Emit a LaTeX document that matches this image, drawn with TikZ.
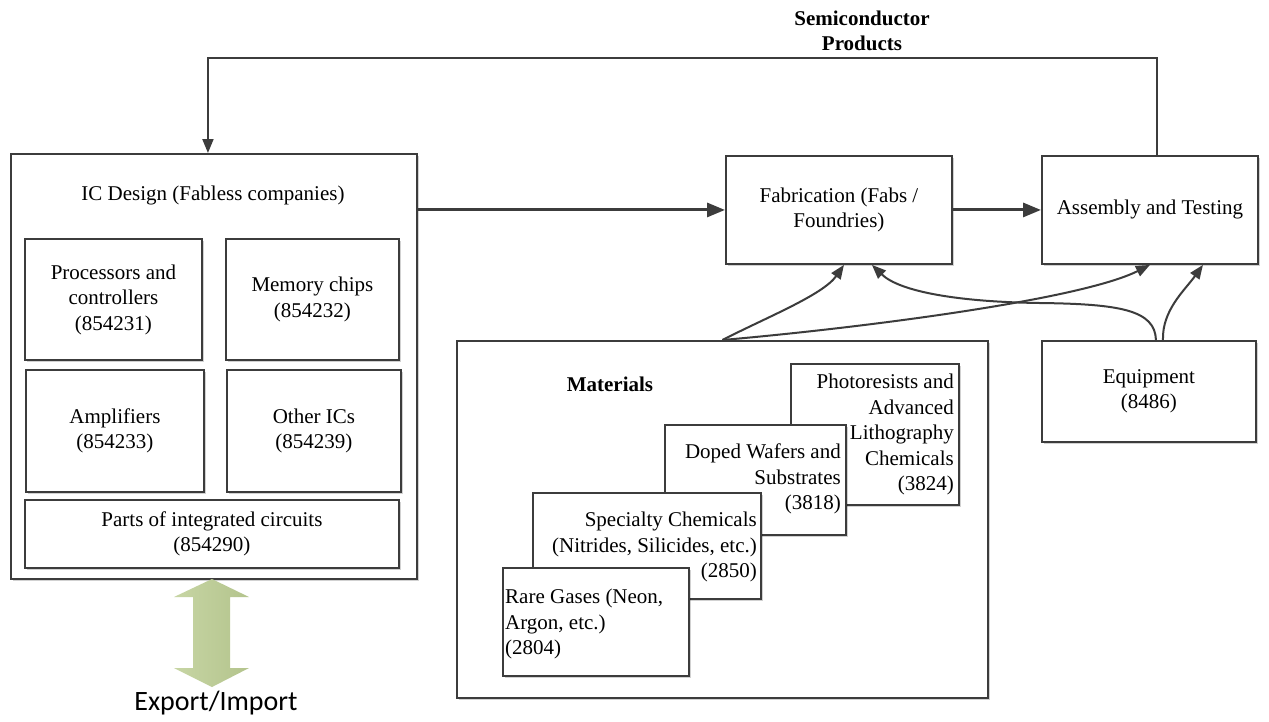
\documentclass[tikz,border=0pt]{standalone}
\usepackage{fontspec}
\setmainfont{Liberation Serif}
\newfontfamily\calib{Carlito}
\usetikzlibrary{arrows.meta,shadows}
\definecolor{linec}{HTML}{3C3C3C}
\definecolor{arrg}{HTML}{BDCE94}
\begin{document}
\begin{tikzpicture}[x=1pt,y=-1pt,
  box/.style={draw=linec, line width=1.9pt, fill=white, inner sep=0pt, anchor=north west, align=center,
    font=\fontsize{21}{25.5}\selectfont,
    drop shadow={shadow xshift=2pt,shadow yshift=-2pt,opacity=0.18,fill=black}},
  txt/.style={inner sep=0pt, font=\fontsize{21}{25.5}\selectfont},
  conn/.style={draw=linec, line width=2pt, -{Triangle[length=14pt,width=11pt]}},
  thick conn/.style={draw=linec, line width=3pt, -{Triangle[length=18pt,width=14pt]}},
]
\useasboundingbox (0,0) rectangle (1269,721);
\fill[white] (0,0) rectangle (1269,721);

% IC Design block
\node[box, minimum width=406pt, minimum height=425pt] (ic) at (10,153) {};
\node[txt] (ictitle) at (213,195) {IC Design (Fabless companies)};
\node[box, minimum width=177pt, minimum height=121pt] (proc) at (24,238) {Processors and\\controllers\\(854231)};
\node[box, minimum width=173pt, minimum height=121pt] (mem) at (225,238) {Memory chips\\(854232)};
\node[box, minimum width=178pt, minimum height=122pt] (amp) at (25,369) {Amplifiers\\(854233)};
\node[box, minimum width=174pt, minimum height=122pt] (oth) at (226,369) {Other ICs\\(854239)};
\node[box, minimum width=374pt, minimum height=68pt] (parts) at (24,499) {Parts of integrated circuits\\(854290)};

% Fab, assembly, equipment
\node[box, minimum width=226pt, minimum height=108pt] (fab) at (725,155) {Fabrication (Fabs /\\Foundries)};
\node[box, minimum width=216pt, minimum height=108pt] (asm) at (1041,155) {Assembly and Testing};
\node[box, minimum width=214pt, minimum height=101pt] (eq) at (1041,340) {Equipment\\(8486)};

% Materials
\node[box, minimum width=531pt, minimum height=357pt] (mat) at (456,340) {};
\node[txt, font=\fontsize{21}{25.5}\selectfont\bfseries] (matlbl) at (610,384) {Materials};
\node[box, minimum width=168pt, minimum height=141pt] (photo) at (790,363) {};
\node[txt, anchor=north east, align=right] (phototxt) at (954,374) {Photoresists and\\Advanced\\Lithography\\Chemicals\\(3824)};
\node[box, minimum width=181pt, minimum height=110pt] (doped) at (664,424) {};
\node[txt, anchor=north east, align=right] (dopedtxt) at (841,444) {Doped Wafers and\\Substrates\\(3818)};
\node[box, minimum width=228pt, minimum height=106pt] (spec) at (532,492) {};
\node[txt, anchor=north east, align=right] (spectxt) at (757,512) {Specialty Chemicals\\(Nitrides, Silicides, etc.)\\(2850)};
\node[box, minimum width=186pt, minimum height=108pt] (rare) at (502,567) {};
\node[txt, anchor=north west, align=left] (raretxt) at (505,589) {Rare Gases (Neon,\\Argon, etc.)\\(2804)};

% Top label
\node[txt, font=\fontsize{21}{25}\selectfont\bfseries, align=center] (sp) at (862,31) {Semiconductor\\Products};

% Export / Import
\shade[left color=arrg!85!white, right color=arrg!95!black] (212,579) -- (249,597) -- (230,597) -- (230,668) -- (249,668) -- (212,687)
  -- (174,668) -- (193,668) -- (193,597) -- (174,597) -- cycle;
\node[txt, font=\calib\fontsize{28}{32}\selectfont] (exim) at (216,703) {Export/Import};

% Connectors
\draw[thick conn] (fab.west -| ic.east) -- (fab.west);
\draw[thick conn] (fab.east) -- (asm.west);

\coordinate (fb) at (0,58);
\coordinate (fbR) at ([xshift=7pt]asm.north);
\coordinate (fbL) at ([xshift=-6pt]ic.north);
\draw[conn] (fbR) -- (fbR |- fb) -| (fbL);

\draw[conn] (mat.north) .. controls (765,318) and (823,295) .. ([xshift=5pt]fab.south);
\draw[conn] (mat.north) .. controls (860,328) and (1080,300) .. (asm.south);
\draw[conn] ([xshift=7pt]eq.north) .. controls (1155,310) and (1120,304) .. (1040,303)
  .. controls (960,302) and (900,292) .. ([xshift=33pt]fab.south);
\draw[conn] ([xshift=14pt]eq.north) .. controls (1162,310) and (1185,290) .. ([xshift=53pt]asm.south);
\end{tikzpicture}
\end{document}
